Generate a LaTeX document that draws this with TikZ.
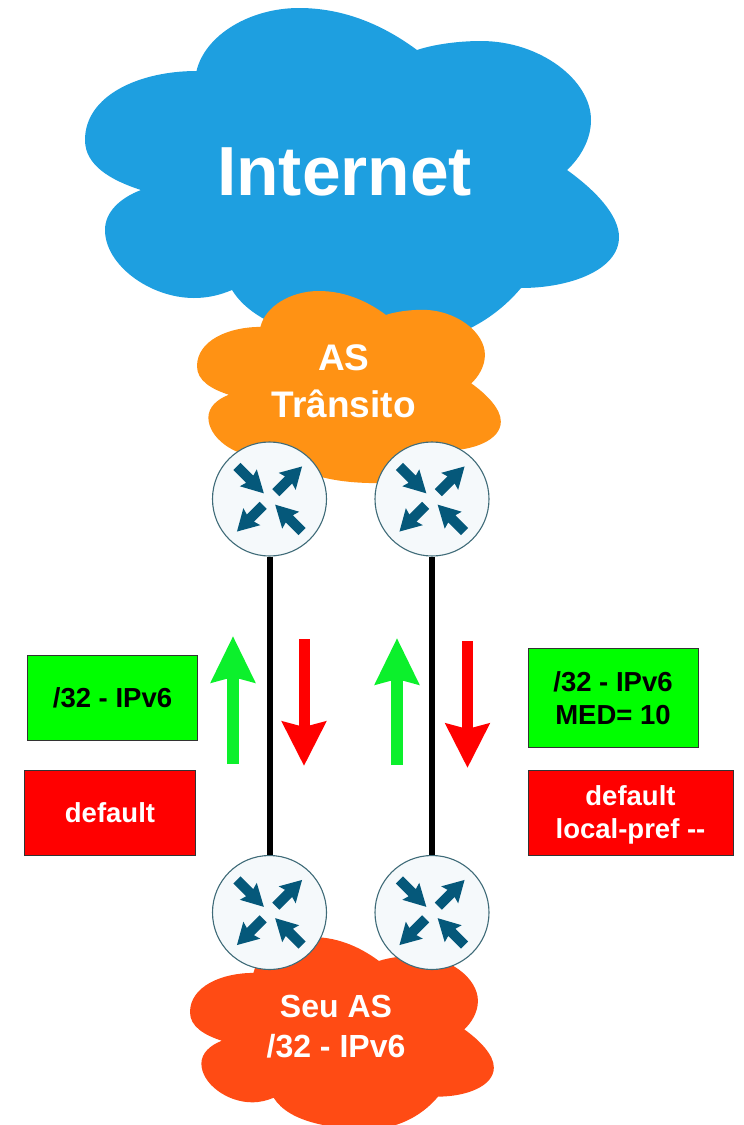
\documentclass[tikz,border=0pt]{standalone}
\usepackage{fontspec}
\setmainfont{Liberation Sans}
\usetikzlibrary{arrows.meta}
\definecolor{cloudblue}{HTML}{1E9FE0}
\definecolor{cloudorange}{HTML}{FF9214}
\definecolor{cloudred}{HTML}{FF4B14}
\definecolor{glyphblue}{HTML}{05587A}
\definecolor{routerfill}{HTML}{F5F9FB}
\definecolor{routerline}{HTML}{3F6B78}
\definecolor{purered}{HTML}{FF0000}
\definecolor{puregreen}{HTML}{00FF00}
\definecolor{arrowgreen}{HTML}{0CF02C}
\newcommand{\drawcloud}[2]{%
  \fill[#1] (141,190)
    .. controls (110,180) and (85,165) .. (85,140)
    .. controls (85,95) and (140,71) .. (196.5,71)
    .. controls (205,35) and (250,8) .. (299,8)
    .. controls (350,8) and (390,30) .. (417,50)
    .. controls (435,44) and (460,41) .. (481,41)
    .. controls (540,41) and (591,80) .. (591,120)
    .. controls (591,140) and (580,158) .. (567,170)
    .. controls (595,190) and (619,215) .. (619,237)
    .. controls (619,270) and (570,288) .. (521,288)
    .. controls (490,325) and (445,345) .. (400,345)
    .. controls (340,345) and (260,335) .. (232,290)
    .. controls (220,295) and (208,298) .. (194,298)
    .. controls (150,298) and (105,265) .. (105,230)
    .. controls (105,212) and (120,198) .. (141,190) -- cycle;%
}
\newcommand{\routerglyph}[1]{%
  \foreach \a in {45,225}
    \fill[glyphblue,shift={(#1)},rotate=\a] (9,-5) -- (27,-5) -- (25,-12) -- (46,0) -- (25,12) -- (27,5) -- (9,5) -- cycle;
  \foreach \a in {135,315}
    \fill[glyphblue,shift={(#1)},rotate=\a] (46,-5) -- (28,-5) -- (30,-12) -- (8,0) -- (30,12) -- (28,5) -- (46,5) -- cycle;
}
\tikzset{
  x=1pt,y=-1pt,
  router/.style={circle,draw=routerline,line width=1.1pt,fill=routerfill,minimum size=114pt,inner sep=0pt},
  link/.style={line width=6pt,black},
  upflow/.style={arrowgreen,line width=11.5pt,-{Stealth[length=46pt,width=43pt,inset=5pt]}},
  downflow/.style={purered,line width=11pt,-{Stealth[length=44pt,width=43pt,inset=5pt]}},
  greenbox/.style={draw=black!80,line width=.9pt,fill=puregreen,inner sep=0pt,align=center,text=black,font=\fontsize{27.5}{33}\selectfont\bfseries},
  redbox/.style={draw=black!80,line width=.9pt,fill=purered,inner sep=0pt,align=center,text=white,font=\fontsize{27.5}{33}\selectfont\bfseries},
  cloudtext/.style={text=white,inner sep=0pt,align=center},
}
\begin{document}
\begin{tikzpicture}
\useasboundingbox (0,0) rectangle (744,1125);
\drawcloud{cloudblue}{}
\begin{scope}[shift={(197,291)},xscale=.569,yscale=.57,shift={(-85,-8)}]
\drawcloud{cloudorange}{}
\end{scope}
\begin{scope}[shift={(190,937)},xscale=.569,yscale=.57,shift={(-85,-8)}]
\drawcloud{cloudred}{}
\end{scope}
\node[cloudtext,anchor=base,font=\fontsize{69.5}{70}\selectfont\bfseries] (inet) at (344.5,195) {Internet};
\node[cloudtext,anchor=base,font=\fontsize{37}{37}\selectfont\bfseries] (as) at (343.7,370.5) {AS};
\node[cloudtext,anchor=base,font=\fontsize{37}{37}\selectfont\bfseries] (transito) at (343.7,417) {Trânsito};
\node[cloudtext,anchor=base,font=\fontsize{32}{32}\selectfont\bfseries] (seu) at (336,1017) {Seu AS};
\node[cloudtext,anchor=base,font=\fontsize{32}{32}\selectfont\bfseries] (prefix) at (336,1057) {/32 - IPv6};
\node[router] (r1) at (269.5,499) {};
\node[router] (r2) at (432,499) {};
\node[router] (r3) at (269.5,912.5) {};
\node[router] (r4) at (432,912.5) {};
\routerglyph{r1.center}
\routerglyph{r2.center}
\routerglyph{r3.center}
\routerglyph{r4.center}
\draw[link] (r1.south) -- (r3.north);
\draw[link] (r2.south) -- (r4.north);
\coordinate (g1a) at (233,764);
\coordinate (g1b) at (233,636);
\coordinate (g2a) at (397,765);
\coordinate (g2b) at (397,638);
\coordinate (d1a) at (304,639);
\coordinate (d1b) at (304,766);
\coordinate (d2a) at (467.5,641);
\coordinate (d2b) at (467.5,768);
\draw[upflow] (g1a) -- (g1b);
\draw[upflow] (g2a) -- (g2b);
\draw[downflow] (d1a) -- (d1b);
\draw[downflow] (d2a) -- (d2b);
\node[greenbox,minimum width=170pt,minimum height=85pt] (b1) at (112.5,698.2) {/32 - IPv6};
\node[redbox,minimum width=170.5pt,minimum height=85pt] (b2) at (110,812.5) {default};
\node[greenbox,minimum width=170pt,minimum height=99pt] (b3) at (613,698.2) {/32 - IPv6\\MED= 10};
\node[redbox,minimum width=205pt,minimum height=85pt] (b4) at (630.5,812.5) {\rule{0pt}{24pt}default\\local-pref {-}{-}};
\end{tikzpicture}
\end{document}
